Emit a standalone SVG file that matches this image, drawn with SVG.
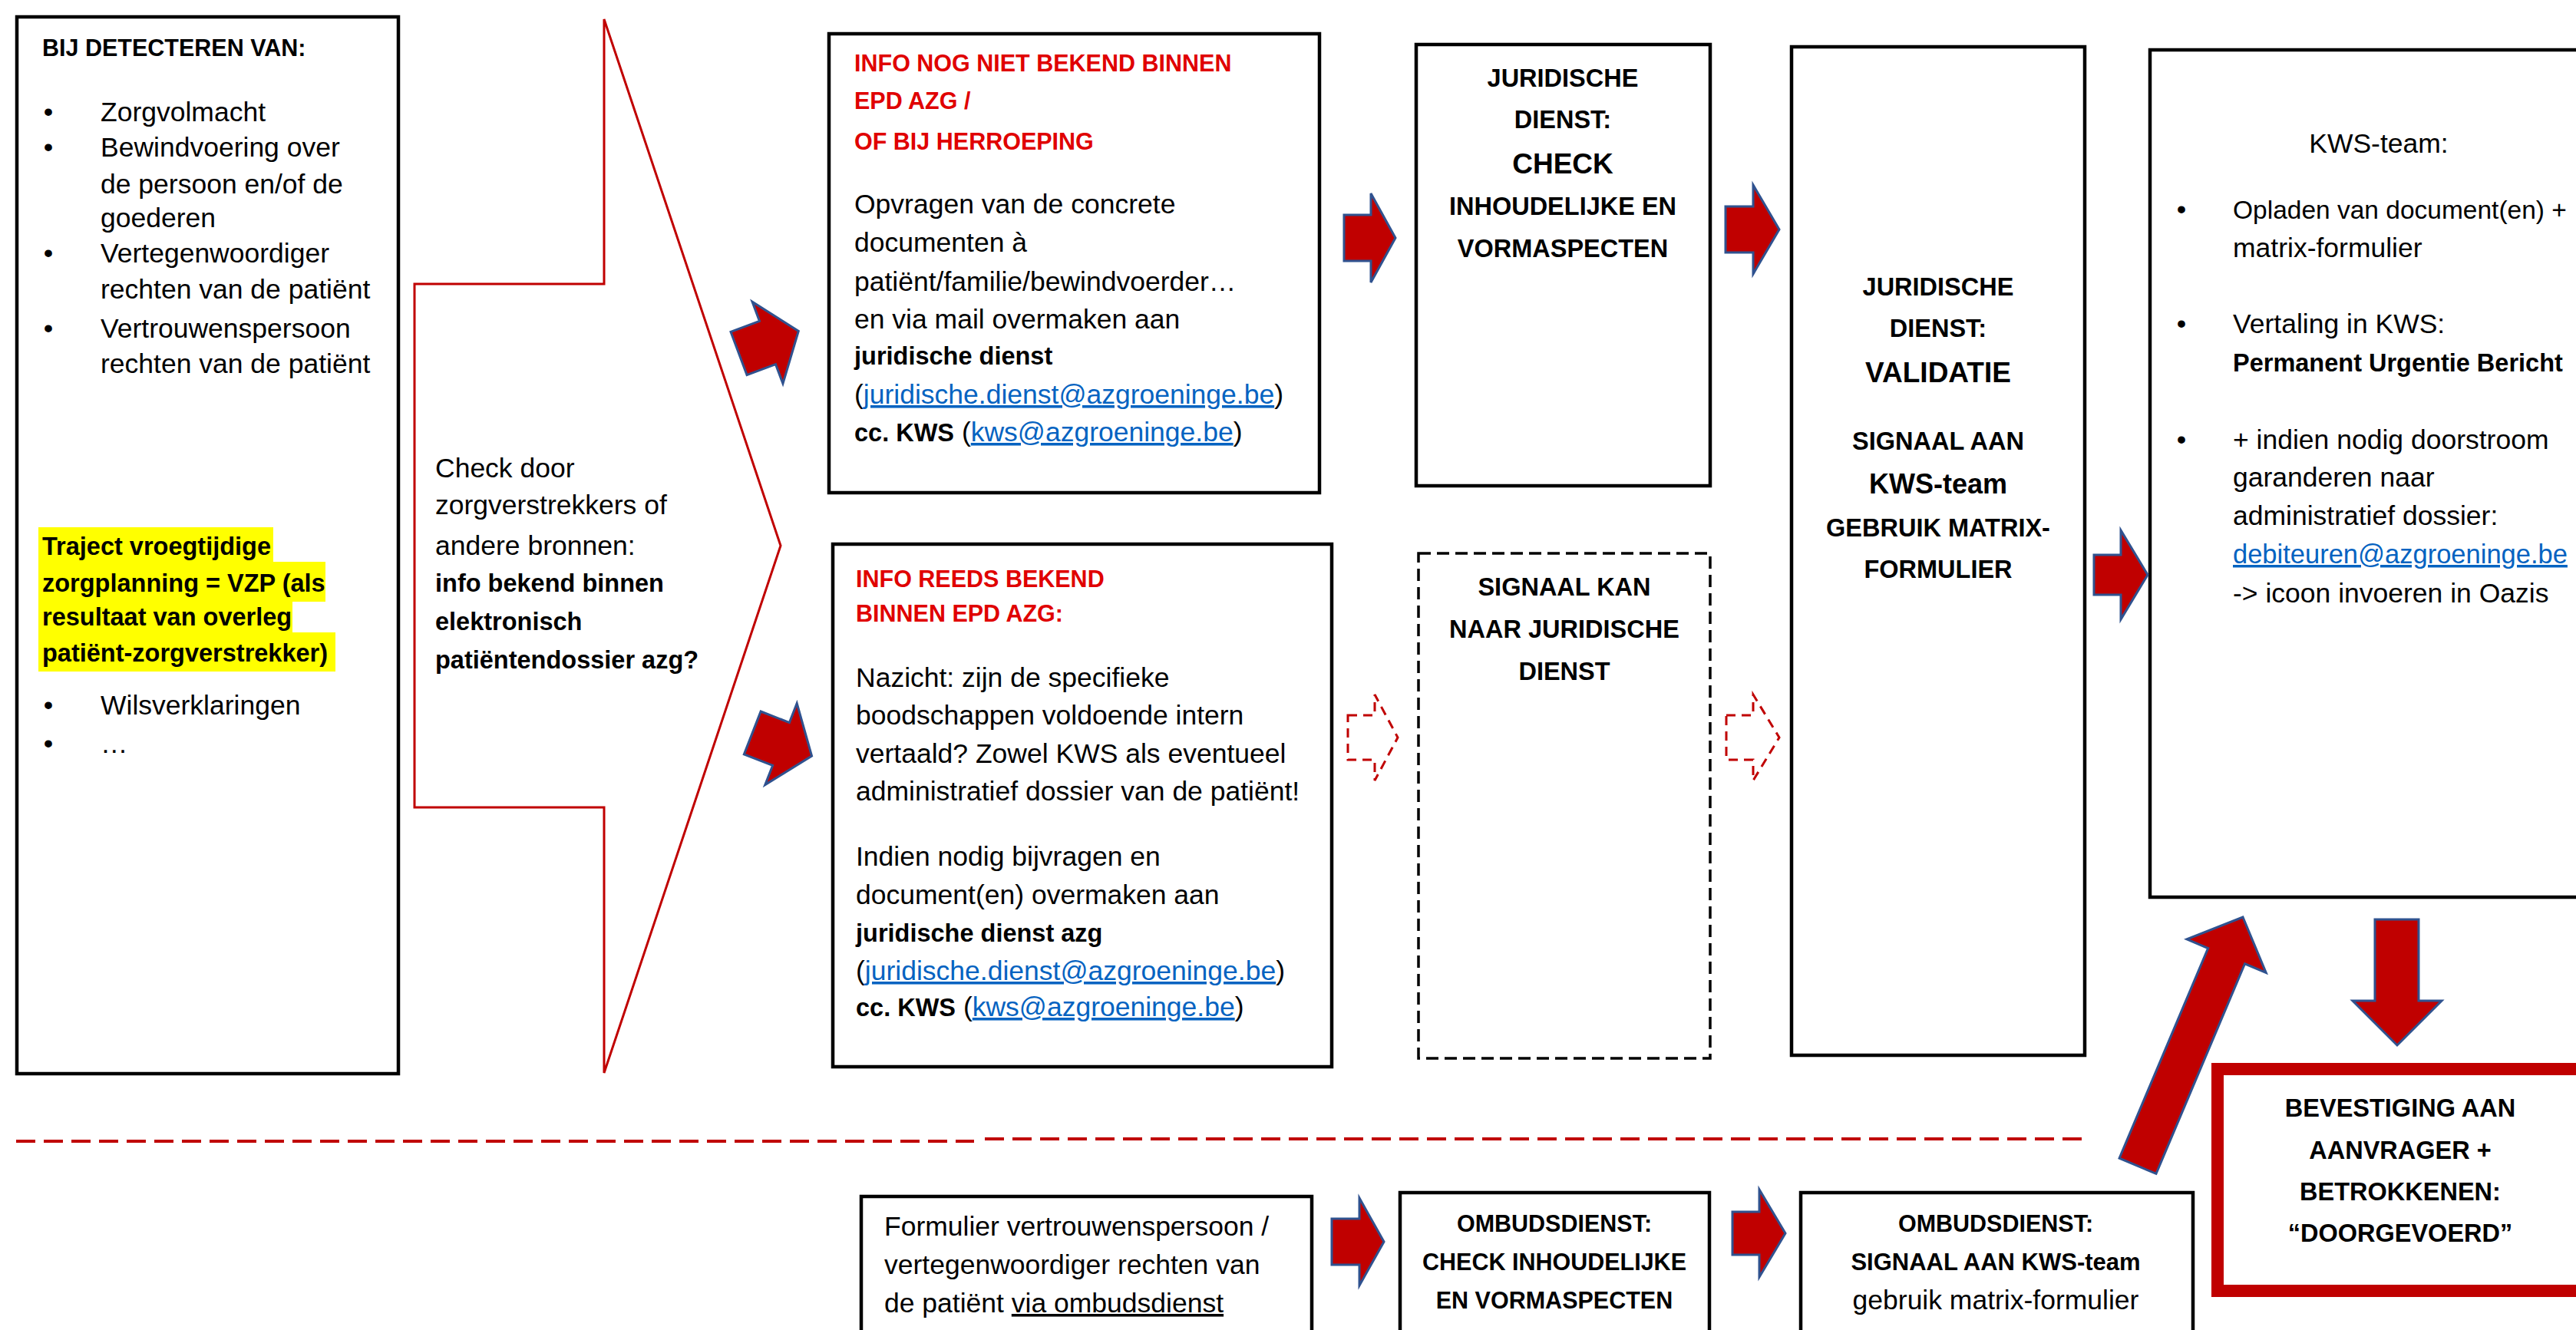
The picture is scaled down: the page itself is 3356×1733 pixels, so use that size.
<svg xmlns="http://www.w3.org/2000/svg" width="3356" height="1733" viewBox="0 0 3356 1733">
<style>
text{font-family:'Liberation Sans',Arial,sans-serif;fill:#000}
.box{fill:#fff;stroke:#000;stroke-width:4.5}
.dbox{fill:#fff;stroke:#000;stroke-width:3.5;stroke-dasharray:16 8}
.arr{fill:#C00000;stroke:#2F528F;stroke-width:3}
.darr{fill:none;stroke:#C00000;stroke-width:3;stroke-dasharray:12 8}
.sep{stroke:#C00000;stroke-width:4;stroke-dasharray:25 11}
.t{font-size:35.5px}
.b{font-size:32.5px;font-weight:bold}
.bc{font-size:30.5px;font-weight:bold}
.h{font-size:32.5px;font-weight:bold}
.xl{font-size:37px;font-weight:bold}
.red{fill:#E00000}
.link{fill:#0563C1;text-decoration:underline}
.mid{text-anchor:middle}
.hl{fill:#FFFF00}
</style>
<rect width="3356" height="1733" fill="#fff"/>

<g id="detecteren">
<rect class="box" x="22" y="22" width="497" height="1377"/>
<text class="bc" x="55" y="73">BIJ DETECTEREN VAN:</text>
<text class="t mid" x="63" y="158">•</text>
<text class="t" x="131" y="158">Zorgvolmacht</text>
<text class="t mid" x="63" y="204">•</text>
<text class="t" x="131" y="204">Bewindvoering over</text>
<text class="t" x="131" y="252">de persoon en/of de</text>
<text class="t" x="131" y="296">goederen</text>
<text class="t mid" x="63" y="342">•</text>
<text class="t" x="131" y="342">Vertegenwoordiger</text>
<text class="t" x="131" y="389">rechten van de patiënt</text>
<text class="t mid" x="63" y="440">•</text>
<text class="t" x="131" y="440">Vertrouwenspersoon</text>
<text class="t" x="131" y="486">rechten van de patiënt</text>
<rect class="hl" x="50" y="687" width="306" height="46"/>
<rect class="hl" x="50" y="732" width="374" height="52"/>
<rect class="hl" x="50" y="783" width="331" height="42"/>
<rect class="hl" x="50" y="824" width="387" height="51"/>
<text class="b" x="55" y="723">Traject vroegtijdige</text>
<text class="b" x="55" y="771">zorgplanning = VZP  (als</text>
<text class="b" x="55" y="815">resultaat van overleg</text>
<text class="b" x="55" y="862">patiënt-zorgverstrekker)</text>
<text class="t mid" x="63" y="931">•</text>
<text class="t" x="131" y="931">Wilsverklaringen</text>
<text class="t mid" x="63" y="981">•</text>
<text class="t" x="131" y="981">…</text>
</g>

<g id="check-bronnen">
<path d="M787,25 L1017,711 L787,1398 L787,1052 L540,1052 L540,370 L787,370 Z" fill="#fff" stroke="#C00000" stroke-width="3"/>
<text class="t" x="567" y="622">Check door</text>
<text class="t" x="567" y="670">zorgverstrekkers of</text>
<text class="t" x="567" y="723">andere bronnen:</text>
<text class="b" x="567" y="771">info bekend binnen</text>
<text class="b" x="567" y="821">elektronisch</text>
<text class="b" x="567" y="871">patiëntendossier azg?</text>
</g>

<g id="info-nog-niet-bekend">
<rect class="box" x="1080" y="44" width="639" height="598"/>
<text class="bc red" x="1113" y="93">INFO NOG NIET BEKEND BINNEN</text>
<text class="bc red" x="1113" y="142">EPD AZG /</text>
<text class="bc red" x="1113" y="195">OF BIJ HERROEPING</text>
<text class="t" x="1113" y="278">Opvragen van de concrete</text>
<text class="t" x="1113" y="328">documenten à</text>
<text class="t" x="1113" y="379">patiënt/familie/bewindvoerder…</text>
<text class="t" x="1113" y="428">en via mail overmaken aan</text>
<text class="b" x="1113" y="475">juridische dienst</text>
<text class="t" x="1113" y="526">(<tspan class="link">juridische.dienst@azgroeninge.be</tspan>)</text>
<text class="t" x="1113" y="575"><tspan class="b">cc. KWS</tspan> (<tspan class="link">kws@azgroeninge.be</tspan>)</text>
</g>

<g id="info-reeds-bekend">
<rect class="box" x="1085" y="709" width="650" height="681"/>
<text class="bc red" x="1115" y="765">INFO REEDS BEKEND</text>
<text class="bc red" x="1115" y="810">BINNEN EPD AZG:</text>
<text class="t" x="1115" y="895">Nazicht: zijn de specifieke</text>
<text class="t" x="1115" y="944">boodschappen voldoende intern</text>
<text class="t" x="1115" y="994">vertaald? Zowel KWS als eventueel</text>
<text class="t" x="1115" y="1043">administratief dossier van de patiënt!</text>
<text class="t" x="1115" y="1128">Indien nodig bijvragen en</text>
<text class="t" x="1115" y="1178">document(en) overmaken aan</text>
<text class="b" x="1115" y="1227">juridische dienst azg</text>
<text class="t" x="1115" y="1277">(<tspan class="link">juridische.dienst@azgroeninge.be</tspan>)</text>
<text class="t" x="1115" y="1324"><tspan class="b">cc. KWS</tspan> (<tspan class="link">kws@azgroeninge.be</tspan>)</text>
</g>

<g id="juridische-check">
<rect class="box" x="1845" y="58" width="383" height="575"/>
<text class="h mid" x="2036" y="113">JURIDISCHE</text>
<text class="h mid" x="2036" y="167">DIENST:</text>
<text class="xl mid" x="2036" y="226">CHECK</text>
<text class="h mid" x="2036" y="280">INHOUDELIJKE EN</text>
<text class="h mid" x="2036" y="335">VORMASPECTEN</text>
</g>

<g id="signaal-kan">
<rect class="dbox" x="1848" y="721" width="380" height="658"/>
<text class="h mid" x="2038" y="776">SIGNAAL KAN</text>
<text class="h mid" x="2038" y="831">NAAR JURIDISCHE</text>
<text class="h mid" x="2038" y="886">DIENST</text>
</g>

<g id="juridische-validatie">
<rect class="box" x="2334" y="61" width="382" height="1314"/>
<text class="h mid" x="2525" y="385">JURIDISCHE</text>
<text class="h mid" x="2525" y="439">DIENST:</text>
<text class="xl mid" x="2525" y="498">VALIDATIE</text>
<text class="h mid" x="2525" y="586">SIGNAAL AAN</text>
<text class="mid" x="2525" y="643" font-size="36" font-weight="bold">KWS-team</text>
<text class="h mid" x="2525" y="699">GEBRUIK MATRIX-</text>
<text class="h mid" x="2525" y="753">FORMULIER</text>
</g>

<g id="kws-team">
<rect class="box" x="2801" y="65" width="596" height="1104"/>
<text class="t mid" x="3099" y="199">KWS-team:</text>
<text class="t mid" x="2842" y="285">•</text>
<text x="2909" y="285" font-size="33.5">Opladen van document(en) +</text>
<text class="t" x="2909" y="335">matrix-formulier</text>
<text class="t mid" x="2842" y="434">•</text>
<text class="t" x="2909" y="434">Vertaling in KWS:</text>
<text class="b" x="2909" y="484">Permanent Urgentie Bericht</text>
<text class="t mid" x="2842" y="585">•</text>
<text class="t" x="2909" y="585">+ indien nodig doorstroom</text>
<text class="t" x="2909" y="634">garanderen naar</text>
<text class="t" x="2909" y="684">administratief dossier:</text>
<text class="link" x="2909" y="734" font-size="34.5">debiteuren@azgroeninge.be</text>
<text class="t" x="2909" y="785">-&gt; icoon invoeren in Oazis</text>
</g>

<g id="bevestiging">
<rect x="2889" y="1393" width="476" height="289" fill="#fff" stroke="#C00000" stroke-width="16"/>
<text class="h mid" x="3127" y="1455">BEVESTIGING AAN</text>
<text class="h mid" x="3127" y="1510">AANVRAGER +</text>
<text class="h mid" x="3127" y="1564">BETROKKENEN:</text>
<text class="h mid" x="3127" y="1618">“DOORGEVOERD”</text>
</g>

<g id="formulier-ombudsdienst">
<rect class="box" x="1122" y="1559" width="587" height="220"/>
<text class="t" x="1152" y="1610">Formulier vertrouwenspersoon /</text>
<text class="t" x="1152" y="1660">vertegenwoordiger rechten van</text>
<text class="t" x="1152" y="1710">de patiënt <tspan text-decoration="underline">via ombudsdienst</tspan></text>
</g>

<g id="ombudsdienst-check">
<rect class="box" x="1824" y="1554" width="403" height="225"/>
<text class="bc mid" x="2025" y="1605">OMBUDSDIENST:</text>
<text class="bc mid" x="2025" y="1655">CHECK INHOUDELIJKE</text>
<text class="bc mid" x="2025" y="1705">EN VORMASPECTEN</text>
</g>

<g id="ombudsdienst-signaal">
<rect class="box" x="2346" y="1554" width="511" height="225"/>
<text class="bc mid" x="2600" y="1605">OMBUDSDIENST:</text>
<text class="mid" x="2600" y="1655" font-size="31" font-weight="bold">SIGNAAL AAN KWS-team</text>
<text class="t mid" x="2600" y="1706">gebruik matrix-formulier</text>
</g>

<g id="connectors">
<polygon class="arr" transform="translate(1000,446.5) rotate(-20.5)" points="-40,-30 0,-30 0,-57 43,0 0,57 0,30 -40,30"/>
<polygon class="arr" transform="translate(1017.5,969.5) rotate(21.3)" points="-40,-30 0,-30 0,-57 43,0 0,57 0,30 -40,30"/>
<polygon class="arr" points="1751,280 1786,280 1786,252 1818,310 1786,368 1786,340 1751,340"/>
<polygon class="arr" points="2248,269 2284,269 2284,241 2318,299 2284,357 2284,329 2248,329"/>
<polygon class="arr" points="2728,723 2763,723 2763,691 2798,749 2763,807 2763,775 2728,775"/>
<polygon class="darr" points="1756,932 1791,932 1791,905 1821,961 1791,1017 1791,990 1756,990"/>
<polygon class="darr" points="2249,932 2284,932 2284,905 2318,961 2284,1017 2284,990 2249,990"/>
<polygon class="arr" points="3094,1198 3151,1198 3151,1304 3181,1304 3123,1362 3065,1304 3094,1304"/>
<polygon class="arr" transform="translate(2922,1195) rotate(22.9)" points="0,0 56,55 26,55 26,352 -26,352 -26,55 -56,55"/>
<polygon class="arr" points="1735,1588 1771,1588 1771,1561 1803,1618 1771,1675 1771,1648 1735,1648"/>
<polygon class="arr" points="2257,1579 2292,1579 2292,1550 2326,1607 2292,1664 2292,1635 2257,1635"/>
<line class="sep" x1="21" y1="1487" x2="1269" y2="1487"/>
<line class="sep" x1="1283" y1="1484" x2="2712" y2="1484"/>
</g>
</svg>
